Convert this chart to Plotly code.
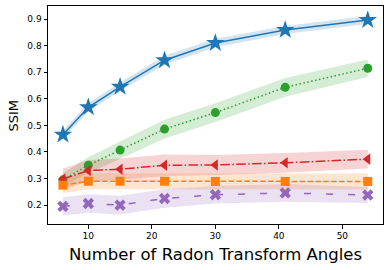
import plotly.graph_objects as go

angles = [6, 10, 15, 22, 30, 41, 54]

ssim_star = [0.465, 0.568, 0.645, 0.745, 0.810, 0.859, 0.896]
ssim_circle = [0.295, 0.350, 0.407, 0.486, 0.548, 0.643, 0.715]
ssim_tri = [0.298, 0.330, 0.335, 0.350, 0.351, 0.359, 0.373]
ssim_square = [0.275, 0.290, 0.290, 0.290, 0.289, 0.289, 0.289]
ssim_x = [0.195, 0.206, 0.200, 0.225, 0.239, 0.246, 0.238]

spread_star = [0.015, 0.016, 0.016, 0.017, 0.016, 0.015, 0.015]
spread_circle = [0.025, 0.030, 0.032, 0.035, 0.035, 0.035, 0.033]
spread_tri = [0.040, 0.040, 0.040, 0.040, 0.038, 0.037, 0.035]
spread_square = [0.030, 0.030, 0.030, 0.030, 0.030, 0.030, 0.030]
spread_x = [0.035, 0.035, 0.035, 0.035, 0.033, 0.033, 0.030]

x_ticks = [10, 20, 30, 40, 50]
y_ticks = [0.2, 0.3, 0.4, 0.5, 0.6, 0.7, 0.8, 0.9]

series = [
    (ssim_star, spread_star, "#1f77b4", "rgba(31,119,180,0.2)", "solid", "star", 14),
    (ssim_circle, spread_circle, "#2ca02c", "rgba(44,160,44,0.2)", "1.5px,2.5px", "circle", 9),
    (ssim_tri, spread_tri, "#d62728", "rgba(214,39,40,0.2)", "9.6px,2.4px,1.5px,2.4px", "triangle-left", 10),
    (ssim_square, spread_square, "#ff7f0e", "rgba(255,127,14,0.2)", "5.5px,2.4px", "square", 9),
    (ssim_x, spread_x, "#9467bd", "rgba(148,103,189,0.2)", "7px,15px", "x", 10),
]

fig = go.Figure()
for vals, spr, col, fillcol, dash, sym, size in series:
    upper = [v + s for v, s in zip(vals, spr)]
    lower = [v - s for v, s in zip(vals, spr)]
    fig.add_trace(go.Scatter(x=angles + angles[::-1], y=upper + lower[::-1],
                             fill="toself", fillcolor=fillcol, line=dict(width=0),
                             mode="lines", hoverinfo="skip", showlegend=False))
for vals, spr, col, fillcol, dash, sym, size in series:
    fig.add_trace(go.Scatter(x=angles, y=vals, mode="lines+markers",
                             line=dict(color=col, width=1.5, dash=dash),
                             marker=dict(symbol=sym, size=size, color=col, line=dict(width=0)),
                             showlegend=False))

axis_common = dict(showline=True, linecolor="black", linewidth=1, mirror=True,
                   ticks="outside", ticklen=3.5, tickwidth=1, tickcolor="black",
                   showgrid=False, zeroline=False, automargin=False,
                   tickfont=dict(family="DejaVu Sans", size=9, color="black"))

fig.update_layout(
    width=390, height=270,
    margin=dict(l=48, r=7, t=6, b=46),
    plot_bgcolor="white", paper_bgcolor="white",
    xaxis=dict(range=[3.65, 56.4], tickvals=x_ticks, **axis_common),
    yaxis=dict(range=[0.129, 0.949], tickvals=y_ticks, tickformat=".1f", **axis_common),
    annotations=[
        dict(text="Number of Radon Transform Angles", xref="paper", yref="paper",
             x=0.5, y=0, xanchor="center", yanchor="middle", yshift=-30, showarrow=False,
             font=dict(family="DejaVu Sans", size=16.5, color="black")),
        dict(text="SSIM", xref="paper", yref="paper", x=0, y=0.5, textangle=-90,
             xanchor="center", yanchor="middle", xshift=-35.5, yshift=-1, showarrow=False,
             font=dict(family="DejaVu Sans", size=13, color="black")),
    ],
)

fig.write_html("out.html", config={"displayModeBar": False},
               post_script="document.body.style.margin='0';")
